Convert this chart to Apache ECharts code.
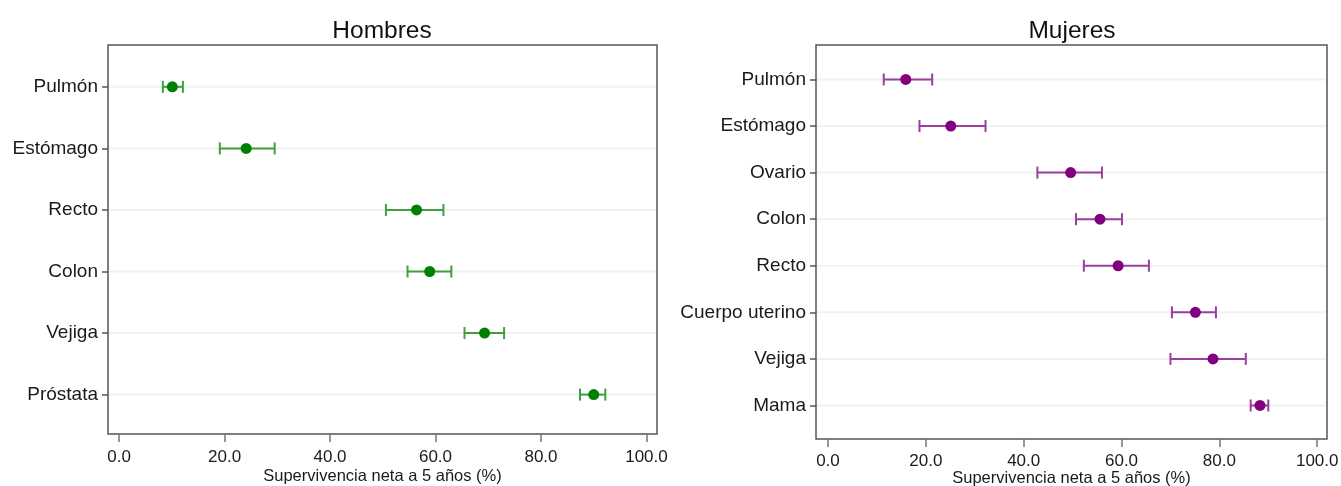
<!DOCTYPE html>
<html>
<head>
<meta charset="utf-8">
<script src="https://cdn.jsdelivr.net/npm/echarts@6/dist/echarts.min.js"></script>
<style>
html,body{margin:0;padding:0;background:#fff;}
#chart{width:1341px;height:486px;}
</style>
</head>
<body>
<div id="chart"></div>
<script>
// ---- Data ----
const menCategories = ['Pulmón', 'Estómago', 'Recto', 'Colon', 'Vejiga', 'Próstata'];
const menEstimate = [10.1, 24.1, 56.4, 58.9, 69.3, 90.0];
const menLower    = [8.3, 19.1, 50.6, 54.7, 65.5, 87.4];
const menUpper    = [12.1, 29.5, 61.5, 63.0, 73.0, 92.2];

const womenCategories = ['Pulmón', 'Estómago', 'Ovario', 'Colon', 'Recto', 'Cuerpo uterino', 'Vejiga', 'Mama'];
const womenEstimate = [15.9, 25.1, 49.6, 55.6, 59.3, 75.1, 78.7, 88.3];
const womenLower    = [11.4, 18.7, 42.8, 50.7, 52.3, 70.3, 70.0, 86.4];
const womenUpper    = [21.3, 32.2, 56.0, 60.1, 65.6, 79.3, 85.4, 90.0];

const xTicks = [0, 20, 40, 60, 80, 100];
const xTitle = 'Supervivencia neta a 5 años (%)';
const panelTitles = ['Hombres', 'Mujeres'];

// ---- Build ----
const FONT = 'Liberation Sans, Arial, Helvetica, sans-serif';

function rows(lo, est, hi) {
  return est.map((e, i) => [i, lo[i], e, hi[i]]);
}

function makeRender(lineColor, dotColor) {
  return function (params, api) {
    const idx = api.value(0);
    const lo = api.coord([api.value(1), idx]);
    const est = api.coord([api.value(2), idx]);
    const hi = api.coord([api.value(3), idx]);
    const cs = params.coordSys;
    const y = est[1];
    const cap = 6;
    return {
      type: 'group',
      children: [
        { type: 'line', shape: { x1: cs.x + 1, y1: y, x2: cs.x + cs.width - 1, y2: y },
          style: { stroke: '#edf3f3', lineWidth: 2 }, z2: 0 },
        { type: 'line', shape: { x1: lo[0], y1: y, x2: hi[0], y2: y },
          style: { stroke: lineColor, lineWidth: 2 }, z2: 1 },
        { type: 'line', shape: { x1: lo[0], y1: y - cap, x2: lo[0], y2: y + cap },
          style: { stroke: lineColor, lineWidth: 2 }, z2: 1 },
        { type: 'line', shape: { x1: hi[0], y1: y - cap, x2: hi[0], y2: y + cap },
          style: { stroke: lineColor, lineWidth: 2 }, z2: 1 },
        { type: 'circle', shape: { cx: est[0], cy: y, r: 5.5 },
          style: { fill: dotColor }, z2: 2 }
      ]
    };
  };
}

function yAxis(gridIndex, cats, min, max) {
  const idxs = cats.map((c, i) => i);
  return {
    type: 'value', gridIndex, inverse: true, min, max,
    axisLine: { show: false, onZero: false },
    splitLine: { show: false },
    axisTick: { show: true, customValues: idxs, length: 6, lineStyle: { color: '#555', width: 1.5 } },
    axisLabel: { customValues: idxs, formatter: v => cats[Math.round(v)], color: '#1a1a1a',
      fontSize: 19, fontFamily: FONT, margin: 10 }
  };
}

function xAxis(gridIndex, min, max, labelMargin, nameGap) {
  return {
    type: 'value', gridIndex, min, max,
    axisLine: { show: false, onZero: false },
    splitLine: { show: false },
    axisTick: { show: true, customValues: xTicks, length: 8, lineStyle: { color: '#777', width: 1.5 } },
    axisLabel: { customValues: xTicks, formatter: v => v.toFixed(1), color: '#1a1a1a',
      fontSize: 17, fontFamily: FONT, margin: labelMargin },
    name: xTitle, nameLocation: 'middle', nameGap: nameGap, nameMoveOverlap: false,
    nameTextStyle: { fontSize: 16.5, fontFamily: FONT, color: '#1a1a1a' }
  };
}

const chart = echarts.init(document.getElementById('chart'), null, { renderer: 'canvas' });
chart.setOption({
  backgroundColor: '#fff',
  animation: false,
  title: [
    { text: panelTitles[0], left: 377, top: 14, textAlign: 'center',
      textStyle: { fontSize: 24.5, fontWeight: 'normal', color: '#111', fontFamily: FONT } },
    { text: panelTitles[1], left: 1067, top: 14, textAlign: 'center',
      textStyle: { fontSize: 24.5, fontWeight: 'normal', color: '#111', fontFamily: FONT } }
  ],
  grid: [
    { left: 108, top: 45, width: 549, height: 389, show: true, borderColor: '#555', borderWidth: 1.5,
      backgroundColor: '#fff', outerBoundsMode: 'none', containLabel: false },
    { left: 816, top: 45, width: 511, height: 394, show: true, borderColor: '#555', borderWidth: 1.5,
      backgroundColor: '#fff', outerBoundsMode: 'none', containLabel: false }
  ],
  xAxis: [xAxis(0, -2.1, 102, 15, 34), xAxis(1, -2.45, 102, 14, 31)],
  yAxis: [yAxis(0, menCategories, -0.68, 5.64), yAxis(1, womenCategories, -0.74, 7.72)],
  series: [
    { type: 'custom', xAxisIndex: 0, yAxisIndex: 0, renderItem: makeRender('#3f9f3f', '#008000'),
      encode: { x: [1, 2, 3], y: 0 }, data: rows(menLower, menEstimate, menUpper) },
    { type: 'custom', xAxisIndex: 1, yAxisIndex: 1, renderItem: makeRender('#9c3f9c', '#800080'),
      encode: { x: [1, 2, 3], y: 0 }, data: rows(womenLower, womenEstimate, womenUpper) }
  ]
});
</script>
</body>
</html>
